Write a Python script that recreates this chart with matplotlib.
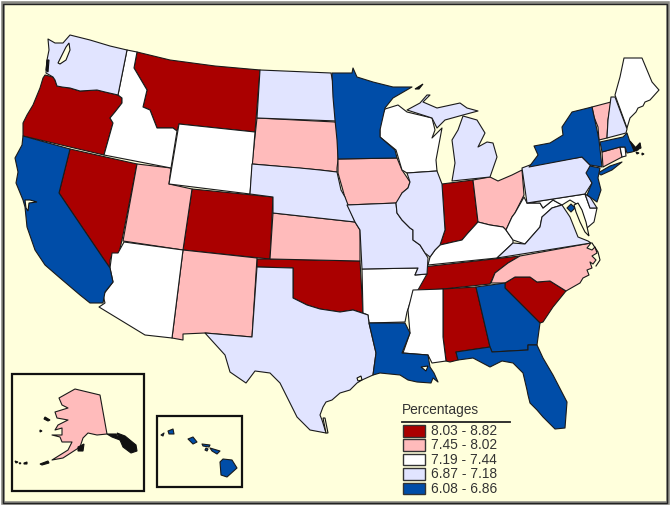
import matplotlib
matplotlib.use("Agg")
import matplotlib.pyplot as plt
from matplotlib.patches import Polygon, Rectangle

plt.rcParams['font.family'] = ['Liberation Sans', 'DejaVu Sans']

legend_title = "Percentages"
class_labels = ["8.03 - 8.82", "7.45 - 8.02", "7.19 - 7.44", "6.87 - 7.18", "6.08 - 6.86"]
class_colors = ["#AA0000", "#FFBBBB", "#FFFFFF", "#E1E4FF", "#004DA8"]
background = "#FFFFDC"
edge = "#1a1a1a"

class_states = [
    ["OR", "NV", "MT", "CO", "OK", "IN", "TN", "AL", "SC"],
    ["UT", "NM", "SD", "KS", "IA", "OH", "NC", "VT", "CT", "AK"],
    ["ID", "WY", "AZ", "AR", "MS", "WI", "KY", "WV", "MD", "ME", "RI"],
    ["WA", "ND", "NE", "TX", "MO", "IL", "MI_U", "MI_L", "PA", "VA", "NH", "DE"],
    ["CA", "MN", "LA", "GA", "FL", "NY", "LI", "NJ", "MA", "DC",
     "HI1", "HI2", "HI3", "HI4", "HI5", "HI6", "HI7"],
]

# Outline geometry of the map, in the map's own projected units
outlines = {
 "WA": [(48,39),(55,43),(63,43),(70,35),(90,40),(110,46),(127,50),(118,95),(105,92),(97,90),(80,91),(70,88),(62,87),(57,86),(55,80),(53,77),(46,73),(47,60),(49,50)],
 "OR": [(45,75),(53,77),(55,80),(57,86),(70,88),(80,91),(97,90),(118,95),(122,98),(122,103),(115,112),(110,118),(113,123),(104,155),(23,136),(23,123),(27,115),(33,105),(40,88),(43,78)],
 "CA": [(23,136),(70,149),(59,193),(103,258),(110,268),(113,282),(105,292),(103,303),(90,303),(80,295),(60,278),(45,265),(35,250),(27,227),(25,207),(23,200),(16,183),(18,172),(15,158),(22,145)],
 "NV": [(70,149),(137,164),(122,240),(119,253),(112,255),(110,260),(110,268),(103,258),(59,193)],
 "ID": [(127,50),(137,52),(134,68),(147,90),(143,107),(150,110),(157,128),(173,128),(177,131),(171,168),(104,155),(113,123),(110,118),(115,112),(122,103),(122,98),(118,95)],
 "MT": [(137,52),(170,60),(215,66),(260,70),(255,132),(179,124),(177,131),(173,128),(157,128),(150,110),(143,107),(147,90),(134,68)],
 "WY": [(179,124),(255,132),(250,194),(169,184)],
 "UT": [(137,164),(171,168),(169,184),(192,189),(183,250),(123,241)],
 "CO": [(192,189),(273,197),(270,259),(183,250)],
 "AZ": [(124,242),(183,250),(172,338),(145,335),(99,307),(105,303),(103,295),(113,282),(110,268),(112,253),(118,253)],
 "NM": [(183,250),(257,258),(252,337),(205,333),(183,334),(183,340),(172,338)],
 "TX": [(257,267),(293,268),(293,298),(307,305),(320,309),(340,312),(353,310),(368,315),(369,323),(376,353),(373,375),(362,380),(357,383),(350,390),(340,393),(332,400),(326,402),(323,407),(320,415),(322,420),(326,433),(310,430),(297,417),(280,383),(270,373),(255,371),(246,383),(230,372),(225,355),(205,333),(252,337)],
 "OK": [(257,259),(270,259),(360,261),(363,313),(353,310),(340,312),(320,309),(307,305),(293,298),(293,268),(257,267)],
 "KS": [(270,259),(273,213),(355,222),(360,230),(360,261)],
 "NE": [(252,164),(300,168),(320,170),(337,172),(341,190),(345,197),(350,210),(355,222),(273,213),(273,197),(250,194)],
 "SD": [(257,118),(335,122),(338,127),(338,160),(337,168),(337,172),(320,170),(252,164)],
 "ND": [(260,70),(331,73),(335,93),(337,121),(257,118)],
 "MN": [(332,73),(352,73),(353,68),(357,77),(373,82),(393,87),(412,87),(393,98),(385,108),(380,130),(380,137),(395,150),(397,158),(338,159),(337,140),(335,120),(333,97)],
 "IA": [(338,159),(397,158),(402,170),(410,182),(408,188),(402,193),(398,203),(347,205),(342,187),(338,173)],
 "MO": [(347,205),(396,203),(397,213),(402,220),(410,228),(413,230),(413,240),(420,245),(425,253),(428,258),(427,274),(415,275),(418,268),(362,269),(360,230),(355,222)],
 "AR": [(362,269),(418,268),(415,275),(427,274),(418,290),(410,303),(407,312),(405,322),(369,323),(368,315),(363,313)],
 "LA": [(369,323),(405,323),(410,333),(402,353),(428,355),(430,367),(434,373),(438,382),(433,378),(431,383),(417,382),(408,380),(400,375),(390,374),(380,373),(373,375),(376,353)],
 "MS": [(413,290),(443,289),(443,337),(446,361),(432,363),(428,355),(403,353),(410,333),(408,310)],
 "TN": [(423,267),(520,256),(508,263),(495,273),(490,284),(443,289),(417,291),(423,277)],
 "AL": [(443,289),(476,287),(490,347),(456,352),(458,360),(450,362),(446,361),(443,337)],
 "GA": [(476,287),(505,283),(505,288),(540,323),(537,345),(528,345),(528,350),(492,352),(490,347)],
 "FL": [(456,352),(490,347),(492,352),(528,350),(528,345),(537,345),(543,358),(553,375),(567,402),(565,428),(555,429),(548,422),(543,417),(537,410),(530,403),(528,395),(527,390),(523,373),(513,363),(502,361),(490,367),(473,358),(458,360)],
 "SC": [(505,283),(515,277),(530,277),(537,282),(550,281),(566,291),(553,307),(543,322),(540,323),(505,288)],
 "NC": [(491,283),(495,273),(508,263),(520,256),(591,243),(587,248),(592,250),(595,247),(597,253),(592,256),(596,260),(593,264),(590,262),(592,268),(587,270),(589,275),(583,278),(580,283),(566,291),(550,281),(537,282),(530,277),(515,277),(505,283)],
 "VA": [(497,258),(513,243),(525,244),(540,227),(542,217),(552,208),(562,205),(570,217),(578,237),(588,241),(591,243)],
 "WV": [(527,203),(540,203),(543,208),(553,200),(562,205),(552,208),(542,217),(540,227),(525,244),(513,240),(506,230),(512,217),(515,213),(524,197)],
 "KY": [(428,265),(430,257),(435,250),(440,245),(453,242),(462,240),(468,233),(478,222),(490,225),(503,227),(506,230),(513,240),(513,243),(497,258)],
 "OH": [(473,180),(490,177),(498,181),(512,175),(522,170),(524,195),(515,213),(512,217),(506,230),(503,227),(490,225),(478,222)],
 "IN": [(442,184),(473,180),(478,222),(468,233),(462,240),(453,242),(440,245),(445,230)],
 "IL": [(407,173),(437,171),(442,184),(445,230),(440,245),(435,250),(430,257),(425,253),(420,245),(413,240),(413,230),(410,228),(402,220),(397,213),(396,203),(402,193),(408,188),(410,182)],
 "WI": [(385,109),(398,105),(407,112),(432,118),(435,130),(432,138),(442,128),(436,160),(437,171),(407,173),(402,170),(396,150),(380,137),(380,130),(378,125)],
 "MI_U": [(407,110),(420,103),(427,95),(430,95),(423,102),(437,108),(460,103),(467,108),(478,111),(463,115),(445,120),(437,128),(432,118)],
 "MI_L": [(463,116),(477,120),(485,133),(478,147),(487,142),(493,143),(497,157),(490,177),(452,181),(455,163),(452,140),(458,130)],
 "PA": [(522,168),(530,165),(582,157),(592,167),(587,173),(592,183),(585,194),(527,203)],
 "NY": [(529,167),(538,155),(534,146),(550,143),(563,135),(562,127),(572,112),(592,107),(597,130),(599,140),(602,167),(590,165),(582,157)],
 "LI": [(598,173),(610,166),(622,162),(612,170),(601,175)],
 "NJ": [(590,166),(600,168),(598,178),(601,190),(597,202),(587,195),(592,183),(586,173)],
 "CT": [(602,152),(620,147),(622,157),(603,167)],
 "RI": [(620,147),(625,147),(626,156),(622,157)],
 "MA": [(600,142),(623,137),(627,133),(630,142),(635,148),(640,143),(638,150),(632,152),(627,153),(625,147),(620,147),(602,152)],
 "VT": [(592,107),(611,102),(608,120),(607,138),(599,140),(598,127),(594,117)],
 "NH": [(611,97),(615,97),(627,129),(626,133),(607,138),(608,120)],
 "ME": [(615,95),(620,77),(624,58),(633,58),(642,58),(652,82),(659,90),(650,100),(645,102),(643,106),(638,108),(636,112),(633,115),(630,118),(627,128)],
 "MD": [(527,203),(585,194),(590,208),(597,208),(594,222),(587,228),(582,213),(578,205),(570,200),(562,205),(553,200),(543,208),(540,203)],
 "DE": [(585,194),(590,197),(597,208),(590,208)],
 "DC": [(571,204),(575,208),(571,212),(567,208)],
 "AK": [(59,398),(62,405),(68,408),(55,412),(57,418),(68,420),(58,425),(55,430),(62,428),(62,435),(52,435),(60,437),(62,442),(72,442),(68,450),(52,460),(63,458),(80,447),(83,438),(88,433),(97,435),(107,434),(100,395),(75,389)],
 "HI1": [(220,462),(223,459),(232,460),(237,468),(227,477),(221,475)],
 "HI2": [(210,448),(220,451),(217,454),(212,451)],
 "HI3": [(202,444),(210,445),(209,447),(203,446)],
 "HI4": [(206,448),(208,449),(207,451),(205,450)],
 "HI5": [(188,439),(193,437),(197,442),(193,444)],
 "HI6": [(168,431),(173,429),(174,434),(169,434)],
 "HI7": [(161,435),(164,433),(163,436)],
}

dark_islands = [
 [(45,417),(50,420),(48,421),(44,419)], [(40,430),(42,431),(40,432)],
 [(15,461),(18,462),(16,463)], [(19,463),(21,463),(20,464)], [(24,463),(27,462),(27,464),(24,464)],
 [(40,464),(48,461),(49,463),(42,465)], [(78,447),(84,444),(83,451),(78,451)],
 [(107,434),(116,434),(120,440),(112,437)],
 [(117,433),(125,436),(136,445),(137,451),(131,453),(123,447)],
 [(47,60),(49,60),(48,72),(46,70)],
 [(415,89),(423,84),(419,89)], [(636,152),(639,153),(637,154)], [(642,153),(644,154),(642,155)],
 [(630,141),(636,148),(640,143),(641,148),(634,151)],
]
water = [
 [(58,63),(62,55),(66,47),(69,43),(70,50),(66,60),(60,64)],
 [(25,200),(30,200),(37,202),(29,203),(28,211),(26,208)],
 [(578,203),(582,210),(586,222),(589,236),(585,232),(580,222),(576,212),(574,205)],
 [(421,367),(428,366),(426,371)],
 [(357,378),(361,376),(362,380),(358,381)],
 [(323,418),(325,418),(328,433),(326,433)],
]
outer_banks = [(592,243),(598,252),(600,260),(596,266)]

fig = plt.figure(figsize=(6.72, 5.08), dpi=100, facecolor="#FFFFFF")
ax = fig.add_axes([0, 0, 1, 1])
ax.set_xlim(0, 672)
ax.set_ylim(508, 0)
ax.axis("off")

ax.add_patch(Rectangle((2.5, 3), 665, 500, facecolor=background, edgecolor="#8A8A84", lw=2.6, zorder=0))
ax.add_patch(Rectangle((3, 3.5), 664, 499, facecolor="none", edgecolor="#222222", lw=1.0, zorder=0.5))

for color, states in zip(class_colors, class_states):
    for st in states:
        ax.add_patch(Polygon(outlines[st], closed=True, facecolor=color, edgecolor=edge,
                             lw=0.8, joinstyle="round", zorder=2))
for isl in water:
    ax.add_patch(Polygon(isl, closed=True, facecolor=background, edgecolor="#111111", lw=0.8, zorder=3))
for isl in dark_islands:
    ax.add_patch(Polygon(isl, closed=True, facecolor="#111111", edgecolor="#111111", lw=0.8, zorder=3))
ax.plot(*zip(*outer_banks), color="#111111", lw=0.8, zorder=3)

for x0, y0, w, h in [(12, 374, 132, 117), (157, 416, 85, 71)]:
    ax.add_patch(Rectangle((x0, y0), w, h, facecolor="none", edgecolor="#111111", lw=1.6, zorder=1))

# Legend
ax.text(402, 410, legend_title, fontsize=9.9, color="#333333", va="center", ha="left", zorder=5)
ax.plot([402, 510], [422, 422], color="#222222", lw=1.3, zorder=5)
for i, (lab, col) in enumerate(zip(class_labels, class_colors)):
    y = 425 + i * 14.4
    ax.add_patch(Rectangle((403, y), 22, 11.5, facecolor=col, edgecolor="#333333", lw=1.0, zorder=5))
    ax.text(431, y + 6, lab, fontsize=9.9, color="#333333", va="center", ha="left", zorder=5)

fig.savefig("out.png", dpi=100, facecolor=fig.get_facecolor())
